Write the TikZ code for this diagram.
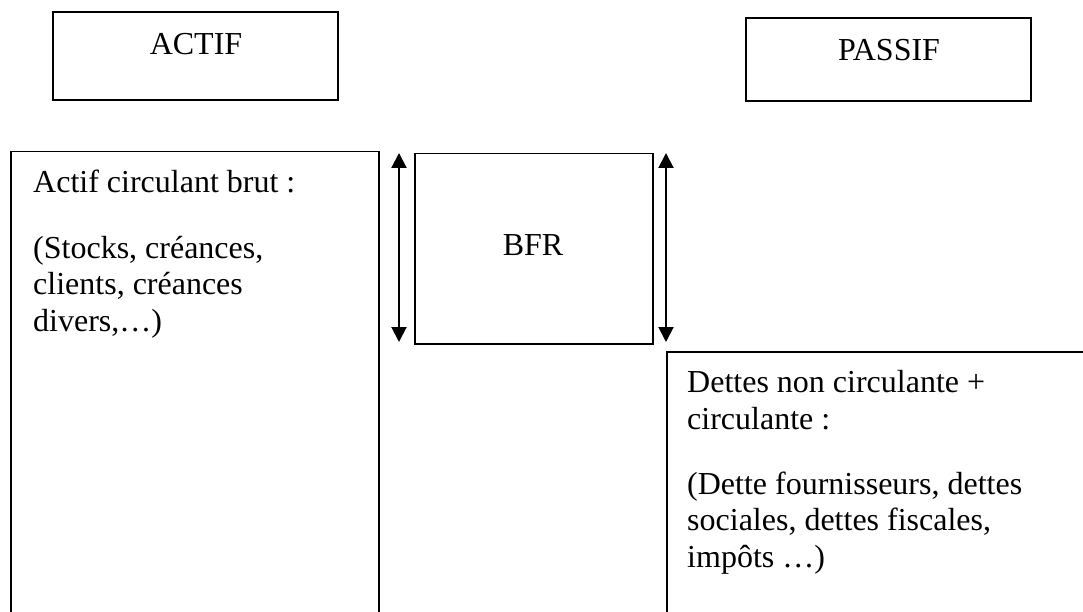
\documentclass[tikz,border=0pt]{standalone}
\usepackage{fontspec}
\setmainfont{Liberation Serif}
\usetikzlibrary{arrows.meta}
\begin{document}
\begin{tikzpicture}[x=1pt,y=-1pt,
  box/.style={draw,line width=1.5pt,inner sep=0pt},
  txt/.style={font=\fontsize{32}{36.5}\selectfont,align=left,inner sep=0pt,anchor=base west},
  ctxt/.style={font=\fontsize{32}{36.5}\selectfont,inner sep=0pt,anchor=base},
  dbl/.style={{Triangle[width=15pt,length=15pt]}-{Triangle[width=15pt,length=15pt]},line width=2pt}]
\useasboundingbox (0,0) rectangle (1083,612);
\clip (0,0) rectangle (1083,612);
% header boxes
\node[box,minimum width=285pt,minimum height=88pt] (actif) at (195.5,56) {};
\node[ctxt] (actiftxt) at (196,55) {ACTIF};
\node[box,minimum width=285pt,minimum height=83pt] (passif) at (888.5,59.5) {};
\node[ctxt] (passiftxt) at (889,61) {PASSIF};
% left big box
\node[box,anchor=north west,minimum width=368pt,minimum height=500pt] (acb) at (10,151) {};
\node[txt] (acb1) at (33,193) {Actif circulant brut :};
\node[txt] (acb2) at (33,331) {(Stocks, créances,\\clients, créances\\divers,…)};
% BFR
\node[box,anchor=north west,minimum width=238pt,minimum height=190pt] (bfr) at (414,153) {};
\node[ctxt] (bfrtxt) at (533,255) {BFR};
% right bottom box
\node[box,anchor=north west,minimum width=430pt,minimum height=300pt] (dettes) at (666,351) {};
\node[txt] (d1) at (687,429) {Dettes non circulante +\\circulante :};
\node[txt] (d2) at (687,567) {(Dette fournisseurs, dettes\\sociales, dettes fiscales,\\impôts …)};
% arrows
\coordinate (a1t) at (399,153);
\coordinate (a1b) at (399,342);
\coordinate (a2t) at (666,153);
\coordinate (a2b) at (666,342);
\draw[dbl] (a1t) -- (a1b);
\draw[dbl] (a2t) -- (a2b);
\end{tikzpicture}
\end{document}
